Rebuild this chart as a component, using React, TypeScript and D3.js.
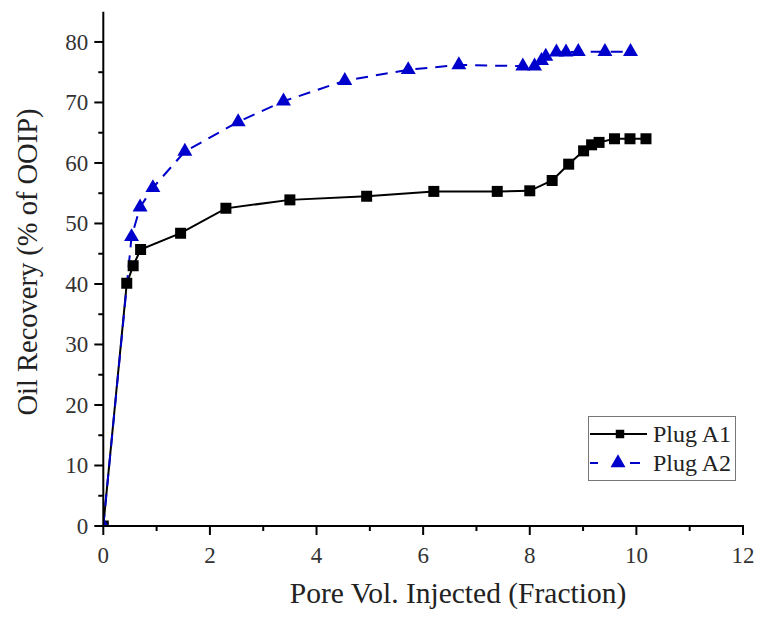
import React from "react";
import * as d3 from "d3";

const seriesNames = ["Plug A1", "Plug A2"];
const a1X = [0, 0.44, 0.56, 0.70, 1.45, 2.30, 3.50, 4.94, 6.20, 7.39, 8.00, 8.42, 8.73, 9.01, 9.16, 9.30, 9.59, 9.88, 10.18];
const a1Y = [0, 40.1, 43.0, 45.7, 48.4, 52.5, 53.9, 54.5, 55.3, 55.3, 55.4, 57.1, 59.8, 62.0, 63.0, 63.4, 64.0, 64.0, 64.0];
const a2X = [0, 0.53, 0.69, 0.93, 1.53, 2.53, 3.38, 4.53, 5.72, 6.67, 7.87, 8.09, 8.22, 8.30, 8.50, 8.68, 8.91, 9.41, 9.89];
const a2Y = [0, 47.8, 52.7, 55.9, 61.9, 66.8, 70.2, 73.6, 75.4, 76.2, 76.0, 76.0, 76.9, 77.6, 78.3, 78.3, 78.4, 78.4, 78.4];
const xTicks = [0, 2, 4, 6, 8, 10, 12];
const xMinor = [1, 3, 5, 7, 9, 11];
const yTicks = [0, 10, 20, 30, 40, 50, 60, 70, 80];
const yMinor = [5, 15, 25, 35, 45, 55, 65, 75];
const xTitle = "Pore Vol. Injected (Fraction)";
const yTitle = "Oil Recovery (% of OOIP)";

const FONT = "'Liberation Serif', 'Times New Roman', Times, serif";
const BLUE = "#0000cc";

export default function App() {
  const left = 103.3, right = 743, top = 11.7, bottom = 526;
  const x = d3.scaleLinear().domain([0, 12]).range([left, right]);
  const y = d3.scaleLinear().domain([0, 85]).range([bottom, top]);
  const a1 = a1X.map((v, i) => [v, a1Y[i]] as [number, number]);
  const a2 = a2X.map((v, i) => [v, a2Y[i]] as [number, number]);
  const line = d3.line<[number, number]>().x(d => x(d[0])).y(d => y(d[1]));
  const sq = d3.symbol(d3.symbolSquare, 121)()!;
  const tri = d3.symbol(d3.symbolTriangle, 97)()!;
  const sqLeg = d3.symbol(d3.symbolSquare, 72)()!;
  const tickColor = "#333";

  return (
    <svg width={772} height={621} style={{ position: "absolute", left: 0, top: 0, background: "#fff" }}>
      <defs>
        <clipPath id="plotclip">
          <rect x={left} y={0} width={right - left + 20} height={bottom - 0} />
        </clipPath>
      </defs>
      <g clipPath="url(#plotclip)">
        <path d={line(a1)!} fill="none" stroke="#000" strokeWidth={2} />
        <path d={line(a2)!} fill="none" stroke={BLUE} strokeWidth={2} strokeDasharray="12 8" />
        {a1.map((d, i) => (
          <path key={"s" + i} d={sq} transform={`translate(${x(d[0])},${y(d[1])})`} fill="#000" />
        ))}
        {a2.map((d, i) => (
          <path key={"t" + i} d={tri} transform={`translate(${x(d[0])},${y(d[1])})`} fill={BLUE} />
        ))}
      </g>
      <line x1={left} x2={left} y1={top} y2={bottom + 1} stroke="#000" strokeWidth={2} />
      <line x1={left - 1} x2={right + 1} y1={bottom} y2={bottom} stroke="#000" strokeWidth={2} />
      {yTicks.map(t => (
        <g key={"yt" + t}>
          <line x1={left - 9} x2={left} y1={y(t)} y2={y(t)} stroke="#000" strokeWidth={2} />
          <text x={left - 15} y={y(t)} dy="0.34em" textAnchor="end" fontFamily={FONT} fontSize={23} fill={tickColor}>{t}</text>
        </g>
      ))}
      {yMinor.map(t => (
        <line key={"ym" + t} x1={left - 5} x2={left} y1={y(t)} y2={y(t)} stroke="#000" strokeWidth={2} />
      ))}
      {xTicks.map(t => (
        <g key={"xt" + t}>
          <line x1={x(t)} x2={x(t)} y1={bottom} y2={bottom + 9} stroke="#000" strokeWidth={2} />
          <text x={x(t)} y={563} textAnchor="middle" fontFamily={FONT} fontSize={23} fill={tickColor}>{t}</text>
        </g>
      ))}
      {xMinor.map(t => (
        <line key={"xm" + t} x1={x(t)} x2={x(t)} y1={bottom} y2={bottom + 5} stroke="#000" strokeWidth={2} />
      ))}
      <text x={458} y={603} textAnchor="middle" fontFamily={FONT} fontSize={29.5} fill="#222">{xTitle}</text>
      <text transform={`translate(37,262) rotate(-90)`} textAnchor="middle" fontFamily={FONT} fontSize={28.5} fill="#222">{yTitle}</text>
      <rect x={588.5} y={416.5} width={147} height={64} fill="#fff" stroke="#777" strokeWidth={1} />
      <line x1={590} x2={647} y1={434} y2={434} stroke="#000" strokeWidth={2} />
      <path d={sqLeg} transform="translate(620,434)" fill="#000" />
      <text x={653} y={434} dy="0.34em" fontFamily={FONT} fontSize={24} fill="#222">{seriesNames[0]}</text>
      <line x1={590} x2={598} y1={463} y2={463} stroke={BLUE} strokeWidth={2} />
      <line x1={630} x2={640} y1={463} y2={463} stroke={BLUE} strokeWidth={2} />
      <path d={tri} transform="translate(618,463)" fill={BLUE} />
      <text x={653} y={463} dy="0.34em" fontFamily={FONT} fontSize={24} fill="#222">{seriesNames[1]}</text>
    </svg>
  );
}
